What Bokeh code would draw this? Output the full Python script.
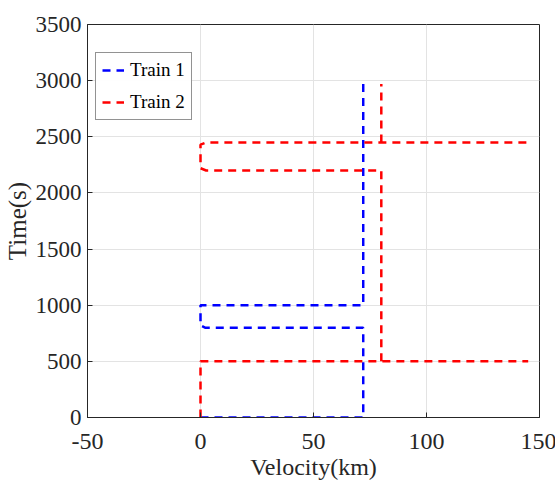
import numpy as np
from bokeh.plotting import figure
from bokeh.models import Range1d, Legend, LegendItem, FixedTicker
from bokeh.embed import file_html
from bokeh.resources import INLINE

nan = np.nan
# Train 1 (blue)
train1_v = [0, 72, 72, 2, 0, 0, 72, 72]
train1_t = [0, 0, 800, 800, 820, 1000, 1000, 3000]
# Train 2 (red)
train2_v = [0, 0, 145, nan, 80, 80, 2.5, 0, 0, 2.5, 145, nan, 80, 80]
train2_t = [0, 500, 500, nan, 500, 2200, 2200, 2220, 2430, 2450, 2450, nan, 2450, 2970]

x_ticks = [-50, 0, 50, 100, 150]
y_ticks = [0, 500, 1000, 1500, 2000, 2500, 3000, 3500]

FONT = "Liberation Serif"
AX = "#262626"

p = figure(frame_width=452, frame_height=393, min_border_left=78, min_border_right=17,
           min_border_top=24, min_border_bottom=60,
           x_range=Range1d(-50, 150), y_range=Range1d(0, 3500),
           output_backend="svg", toolbar_location=None)

l1 = p.line(train1_v, train1_t, line_color="#0000ff", line_width=2.5, line_dash="8 6")
l2 = p.line(train2_v, train2_t, line_color="#ff0000", line_width=2.5, line_dash="8 6")

p.xaxis.ticker = FixedTicker(ticks=x_ticks)
p.yaxis.ticker = FixedTicker(ticks=y_ticks)
p.xaxis.major_label_overrides = {t: str(t) for t in x_ticks}
p.xaxis.axis_label = "Velocity(km)"
p.yaxis.axis_label = "Time(s)"

for ax in (p.xaxis[0], p.yaxis[0]):
    ax.axis_line_color = AX
    ax.major_tick_line_color = AX
    ax.major_tick_in = 5
    ax.major_tick_out = 0
    ax.minor_tick_line_color = None
    ax.major_label_text_font = FONT
    ax.major_label_text_color = AX
    ax.axis_label_text_font = FONT
    ax.axis_label_text_font_style = "normal"
    ax.axis_label_text_color = AX
p.xaxis.major_label_text_font_size = "24px"
p.yaxis.major_label_text_font_size = "23px"
p.xaxis.axis_label_text_font_size = "24px"
p.yaxis.axis_label_text_font_size = "25px"
p.xaxis.major_label_standoff = 16
p.yaxis.major_label_standoff = 6
p.xaxis.axis_label_standoff = 2
p.yaxis.axis_label_standoff = 2

p.xgrid.grid_line_color = "#e3e3e3"
p.ygrid.grid_line_color = "#e3e3e3"
p.outline_line_color = AX
p.outline_line_alpha = 1

legend = Legend(items=[LegendItem(label="Train 1", renderers=[l1]),
                       LegendItem(label="Train 2", renderers=[l2])],
                location=(8, 297), label_text_font=FONT, label_text_font_size="19px",
                label_text_color="#000000", glyph_width=22, glyph_height=20,
                label_standoff=6, spacing=10, padding=6, margin=0,
                border_line_color=AX, border_line_width=1, background_fill_color="white")
p.add_layout(legend, "center")

open("out.html", "w").write(file_html(p, INLINE))
